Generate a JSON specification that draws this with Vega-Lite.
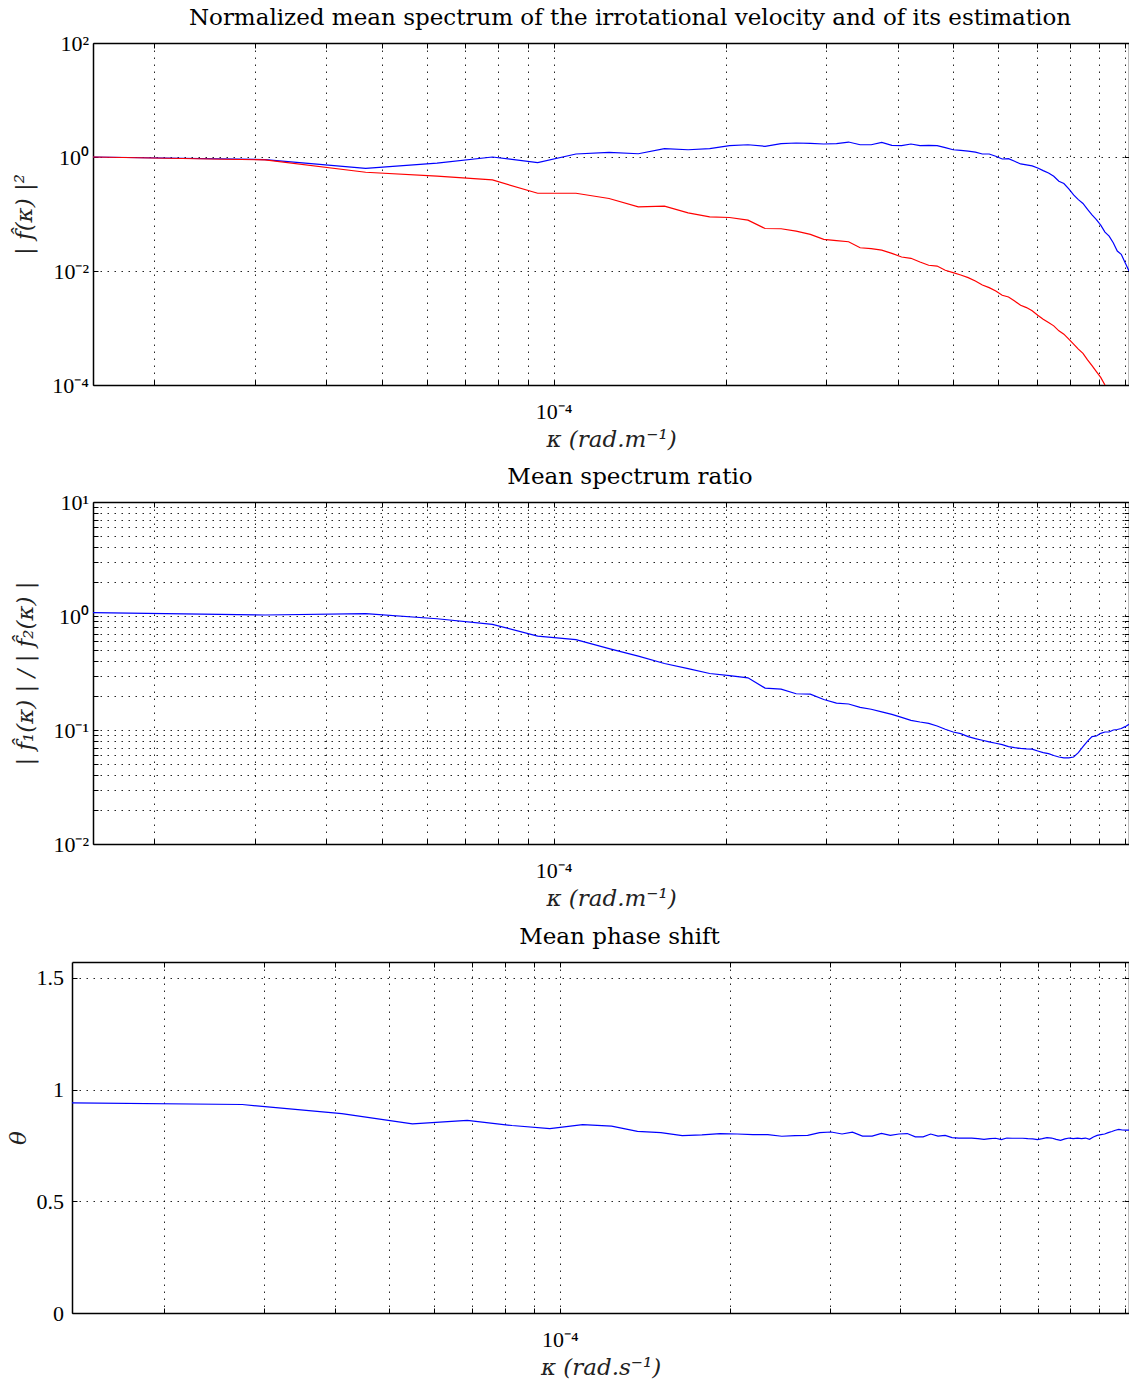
{
 "$schema": "https://vega.github.io/schema/vega-lite/v6.json",
 "background": "white",
 "padding": {"left": 7, "top": 7, "right": 0, "bottom": 0},
 "spacing": 15,
 "bounds": "full",
 "config": {
  "view": {"stroke": null},
  "axis": {"domain": true, "domainColor": "#000", "domainWidth": 1.5, "ticks": true, "tickSize": -5, "tickColor": "#000", "tickWidth": 1,
   "grid": true, "gridColor": "#000", "gridDash": [1.5, 5.5], "gridOpacity": 0.85, "gridWidth": 1,
   "labelFont": "Liberation Serif", "labelFontSize": 22, "labelColor": "#000",
   "titleFont": "DejaVu Serif", "titleFontSize": 23, "titleFontWeight": "normal", "titleFontStyle": "italic", "titleColor": "#222",
   "labelFlush": false, "labelOverlap": false, "labelBound": false},
  "title": {"font": "DejaVu Serif", "fontSize": 23, "fontWeight": "normal", "color": "#000", "anchor": "middle", "frame": "group"},
  "line": {"strokeWidth": 1.2, "clip": true}
 },
 "datasets": {
  "wave": [
   {"k":1.5625e-5,"blue":1.0,"red":1.0,"ratio":1.07},
   {"k":3.125e-5,"blue":0.9,"red":0.89,"ratio":1.02},
   {"k":4.6875e-5,"blue":0.63,"red":0.54,"ratio":1.05},
   {"k":6.25e-5,"blue":0.78,"red":0.46,"ratio":0.946},
   {"k":7.8125e-5,"blue":1.0,"red":0.396,"ratio":0.843},
   {"k":9.375e-5,"blue":0.8,"red":0.231,"ratio":0.667},
   {"k":1.09375e-4,"blue":1.13,"red":0.231,"ratio":0.62},
   {"k":1.25e-4,"blue":1.21,"red":0.187,"ratio":0.518},
   {"k":1.40625e-4,"blue":1.14,"red":0.133,"ratio":0.444},
   {"k":1.5625e-4,"blue":1.4,"red":0.137,"ratio":0.383},
   {"k":1.71875e-4,"blue":1.34,"red":0.105,"ratio":0.346},
   {"k":1.875e-4,"blue":1.4,"red":0.089,"ratio":0.313},
   {"k":2.03125e-4,"blue":1.58,"red":0.0868,"ratio":0.3},
   {"k":2.1875e-4,"blue":1.64,"red":0.078,"ratio":0.287},
   {"k":2.34375e-4,"blue":1.54,"red":0.0557,"ratio":0.233},
   {"k":2.5e-4,"blue":1.71,"red":0.0551,"ratio":0.228},
   {"k":2.65625e-4,"blue":1.76,"red":0.05,"ratio":0.208},
   {"k":2.8125e-4,"blue":1.73,"red":0.0438,"ratio":0.206},
   {"k":2.96875e-4,"blue":1.69,"red":0.0358,"ratio":0.185},
   {"k":3.125e-4,"blue":1.71,"red":0.034,"ratio":0.172},
   {"k":3.28125e-4,"blue":1.83,"red":0.0326,"ratio":0.169},
   {"k":3.4375e-4,"blue":1.64,"red":0.0256,"ratio":0.158},
   {"k":3.59375e-4,"blue":1.64,"red":0.0246,"ratio":0.152},
   {"k":3.75e-4,"blue":1.8,"red":0.0233,"ratio":0.144},
   {"k":3.90625e-4,"blue":1.6,"red":0.0204,"ratio":0.137},
   {"k":4.0625e-4,"blue":1.58,"red":0.0176,"ratio":0.129},
   {"k":4.21875e-4,"blue":1.69,"red":0.0167,"ratio":0.1215},
   {"k":4.375e-4,"blue":1.58,"red":0.0144,"ratio":0.1175},
   {"k":4.53125e-4,"blue":1.6,"red":0.0126,"ratio":0.1143},
   {"k":4.6875e-4,"blue":1.58,"red":0.0122,"ratio":0.1084},
   {"k":4.84375e-4,"blue":1.46,"red":0.0103,"ratio":0.1014},
   {"k":5e-4,"blue":1.34,"red":0.00935,"ratio":0.0961},
   {"k":5.15625e-4,"blue":1.31,"red":0.0085,"ratio":0.0929},
   {"k":5.3125e-4,"blue":1.27,"red":0.00764,"ratio":0.0875},
   {"k":5.46875e-4,"blue":1.22,"red":0.00668,"ratio":0.084},
   {"k":5.625e-4,"blue":1.13,"red":0.00569,"ratio":0.0813},
   {"k":5.78125e-4,"blue":1.13,"red":0.0051,"ratio":0.0786},
   {"k":5.9375e-4,"blue":1.03,"red":0.00447,"ratio":0.0765},
   {"k":6.09375e-4,"blue":0.923,"red":0.00375,"ratio":0.0745},
   {"k":6.25e-4,"blue":0.935,"red":0.0035,"ratio":0.0715},
   {"k":6.40625e-4,"blue":0.84,"red":0.00298,"ratio":0.07},
   {"k":6.5625e-4,"blue":0.755,"red":0.0025,"ratio":0.069},
   {"k":6.71875e-4,"blue":0.725,"red":0.00228,"ratio":0.0683},
   {"k":6.875e-4,"blue":0.7,"red":0.002,"ratio":0.068},
   {"k":7.03125e-4,"blue":0.643,"red":0.00168,"ratio":0.0655},
   {"k":7.1875e-4,"blue":0.577,"red":0.00143,"ratio":0.0633},
   {"k":7.34375e-4,"blue":0.525,"red":0.00125,"ratio":0.062},
   {"k":7.5e-4,"blue":0.459,"red":0.00109,"ratio":0.0597},
   {"k":7.65625e-4,"blue":0.375,"red":0.000892,"ratio":0.058},
   {"k":7.8125e-4,"blue":0.342,"red":0.00078,"ratio":0.0569},
   {"k":7.96875e-4,"blue":0.275,"red":0.000638,"ratio":0.057},
   {"k":8.125e-4,"blue":0.216,"red":0.000521,"ratio":0.058},
   {"k":8.28125e-4,"blue":0.179,"red":0.000426,"ratio":0.0633},
   {"k":8.4375e-4,"blue":0.153,"red":0.000358,"ratio":0.0715},
   {"k":8.59375e-4,"blue":0.12,"red":0.000277,"ratio":0.08},
   {"k":8.75e-4,"blue":0.0967,"red":0.000218,"ratio":0.0875},
   {"k":8.90625e-4,"blue":0.08,"red":0.000171,"ratio":0.0886},
   {"k":9.0625e-4,"blue":0.0638,"red":0.000136,"ratio":0.0935},
   {"k":9.21875e-4,"blue":0.0481,"red":0.0001,"ratio":0.096},
   {"k":9.375e-4,"blue":0.041,"ratio":0.096},
   {"k":9.53125e-4,"blue":0.0313,"ratio":0.1},
   {"k":9.6875e-4,"blue":0.0224,"ratio":0.101},
   {"k":9.84375e-4,"blue":0.0196,"ratio":0.103},
   {"k":1e-3,"blue":0.014,"ratio":0.107},
   {"k":1.015625e-3,"blue":0.01,"ratio":0.112}
  ],
  "phase": [
   {"w":1.3725e-5,"theta":0.94},{"w":2.745e-5,"theta":0.933},{"w":4.1175e-5,"theta":0.892},{"w":5.49e-5,"theta":0.846},
   {"w":6.8625e-5,"theta":0.862},{"w":8.235e-5,"theta":0.839},{"w":9.6075e-5,"theta":0.825},{"w":1.098e-4,"theta":0.843},
   {"w":1.23525e-4,"theta":0.836},{"w":1.3725e-4,"theta":0.813},{"w":1.50975e-4,"theta":0.807},{"w":1.647e-4,"theta":0.794},
   {"w":1.78425e-4,"theta":0.797},{"w":1.9215e-4,"theta":0.803},{"w":2.05875e-4,"theta":0.801},{"w":2.196e-4,"theta":0.798},
   {"w":2.33325e-4,"theta":0.798},{"w":2.4705e-4,"theta":0.791},{"w":2.60775e-4,"theta":0.794},{"w":2.745e-4,"theta":0.795},
   {"w":2.88225e-4,"theta":0.807},{"w":3.0195e-4,"theta":0.81},{"w":3.15675e-4,"theta":0.801},{"w":3.294e-4,"theta":0.809},
   {"w":3.43125e-4,"theta":0.792},{"w":3.5685e-4,"theta":0.792},{"w":3.70575e-4,"theta":0.804},{"w":3.843e-4,"theta":0.795},
   {"w":3.98025e-4,"theta":0.801},{"w":4.1175e-4,"theta":0.803},{"w":4.25475e-4,"theta":0.788},{"w":4.392e-4,"theta":0.788},
   {"w":4.52925e-4,"theta":0.801},{"w":4.6665e-4,"theta":0.792},{"w":4.80375e-4,"theta":0.795},{"w":4.941e-4,"theta":0.785},
   {"w":5.07825e-4,"theta":0.783},{"w":5.2155e-4,"theta":0.783},{"w":5.35275e-4,"theta":0.783},{"w":5.49e-4,"theta":0.78},
   {"w":5.62725e-4,"theta":0.777},{"w":5.7645e-4,"theta":0.78},{"w":5.90175e-4,"theta":0.782},{"w":6.039e-4,"theta":0.776},
   {"w":6.17625e-4,"theta":0.783},{"w":6.3135e-4,"theta":0.782},{"w":6.45075e-4,"theta":0.782},{"w":6.588e-4,"theta":0.782},
   {"w":6.72525e-4,"theta":0.78},{"w":6.8625e-4,"theta":0.779},{"w":6.99975e-4,"theta":0.776},{"w":7.137e-4,"theta":0.78},
   {"w":7.27425e-4,"theta":0.785},{"w":7.4115e-4,"theta":0.783},{"w":7.54875e-4,"theta":0.777},{"w":7.686e-4,"theta":0.773},
   {"w":7.82325e-4,"theta":0.779},{"w":7.9605e-4,"theta":0.783},{"w":8.09775e-4,"theta":0.78},{"w":8.235e-4,"theta":0.783},
   {"w":8.37225e-4,"theta":0.78},{"w":8.5095e-4,"theta":0.783},{"w":8.64675e-4,"theta":0.777},{"w":8.784e-4,"theta":0.788},
   {"w":8.92125e-4,"theta":0.795},{"w":9.0585e-4,"theta":0.798},{"w":9.19575e-4,"theta":0.801},{"w":9.333e-4,"theta":0.807},
   {"w":9.47025e-4,"theta":0.812},{"w":9.6075e-4,"theta":0.818},{"w":9.74475e-4,"theta":0.822},{"w":9.882e-4,"theta":0.819},
   {"w":1.001925e-3,"theta":0.818},{"w":1.01565e-3,"theta":0.818}
  ]
 },
 "vconcat": [
  {
   "width": 1057, "height": 342,
   "title": {"text": "Normalized mean spectrum of the irrotational velocity and of its estimation", "offset": 2, "dx": 29.5},
   "data": {"name": "wave"},
   "transform": [{"fold": ["blue", "red"], "as": ["series", "v"]}, {"filter": "isValid(datum.v) && datum.v > 0"}],
   "layer": [
    {
     "mark": {"type": "line", "clip": true, "strokeWidth": 1.2},
     "encoding": {
      "x": {"field": "k", "type": "quantitative",
       "scale": {"type": "log", "domain": [1.5625e-5, 1.015625e-3], "nice": false, "range": [21, 1057]},
       "axis": {"orient": "bottom", "values": [2e-5,3e-5,4e-5,5e-5,6e-5,7e-5,8e-5,9e-5,1e-4,2e-4,3e-4,4e-4,5e-4,6e-4,7e-4,8e-4,9e-4,1e-3],
        "labelExpr": "abs(datum.value-0.0001)<1e-9 ? '10⁻⁴' : ''", "title": "κ (rad.m⁻¹)", "labelPadding": 21, "titlePadding": 6}},
      "y": {"field": "v", "type": "quantitative",
       "scale": {"type": "log", "domain": [0.0001, 100], "nice": false},
       "axis": {"orient": "left", "offset": -21, "values": [0.0001, 0.01, 1, 100],
        "labelExpr": "datum.value > 10 ? '10²' : datum.value > 0.1 ? '10⁰' : datum.value > 0.001 ? '10⁻²' : '10⁻⁴'",
        "title": "| f̂(κ) |²", "labelPadding": 9.5, "titlePadding": 15}},
      "color": {"field": "series", "type": "nominal", "scale": {"domain": ["blue", "red"], "range": ["#0000ff", "#ff0000"]}, "legend": null}
     }
    },
    {
     "mark": {"type": "point", "opacity": 0},
     "encoding": {
      "x": {"field": "k", "type": "quantitative",
       "axis": {"orient": "top", "labels": false, "grid": false, "title": null, "values": [2e-5,3e-5,4e-5,5e-5,6e-5,7e-5,8e-5,9e-5,1e-4,2e-4,3e-4,4e-4,5e-4,6e-4,7e-4,8e-4,9e-4,1e-3]}},
      "y": {"field": "v", "type": "quantitative",
       "axis": {"orient": "right", "labels": false, "grid": false, "title": null, "values": [0.0001, 0.01, 1, 100]}}
     }
    }
   ],
   "resolve": {"axis": {"x": "independent", "y": "independent"}}
  },
  {
   "width": 1057, "height": 342,
   "title": {"text": "Mean spectrum ratio", "offset": 2, "dx": 29.5},
   "data": {"name": "wave"},
   "layer": [
    {
     "mark": {"type": "line", "clip": true, "strokeWidth": 1.2, "color": "#0000ff"},
     "encoding": {
      "x": {"field": "k", "type": "quantitative",
       "scale": {"type": "log", "domain": [1.5625e-5, 1.015625e-3], "nice": false, "range": [21, 1057]},
       "axis": {"orient": "bottom", "values": [2e-5,3e-5,4e-5,5e-5,6e-5,7e-5,8e-5,9e-5,1e-4,2e-4,3e-4,4e-4,5e-4,6e-4,7e-4,8e-4,9e-4,1e-3],
        "labelExpr": "abs(datum.value-0.0001)<1e-9 ? '10⁻⁴' : ''", "title": "κ (rad.m⁻¹)", "labelPadding": 21, "titlePadding": 6}},
      "y": {"field": "ratio", "type": "quantitative",
       "scale": {"type": "log", "domain": [0.01, 10], "nice": false},
       "axis": {"orient": "left", "offset": -21, "values": [0.01,0.02,0.03,0.04,0.05,0.06,0.07,0.08,0.09,0.1,0.2,0.3,0.4,0.5,0.6,0.7,0.8,0.9,1,2,3,4,5,6,7,8,9,10],
        "labelExpr": "abs(datum.value-10)<1e-6 ? '10¹' : abs(datum.value-1)<1e-7 ? '10⁰' : abs(datum.value-0.1)<1e-8 ? '10⁻¹' : abs(datum.value-0.01)<1e-9 ? '10⁻²' : ''",
        "title": "| f̂₁(κ) | / | f̂₂(κ) |", "labelPadding": 9.5, "titlePadding": 15}}
     }
    },
    {
     "mark": {"type": "point", "opacity": 0},
     "encoding": {
      "x": {"field": "k", "type": "quantitative",
       "axis": {"orient": "top", "labels": false, "grid": false, "title": null, "values": [2e-5,3e-5,4e-5,5e-5,6e-5,7e-5,8e-5,9e-5,1e-4,2e-4,3e-4,4e-4,5e-4,6e-4,7e-4,8e-4,9e-4,1e-3]}},
      "y": {"field": "ratio", "type": "quantitative",
       "axis": {"orient": "right", "labels": false, "grid": false, "title": null, "values": [0.01,0.02,0.03,0.04,0.05,0.06,0.07,0.08,0.09,0.1,0.2,0.3,0.4,0.5,0.6,0.7,0.8,0.9,1,2,3,4,5,6,7,8,9,10]}}
     }
    }
   ],
   "resolve": {"axis": {"x": "independent", "y": "independent"}}
  },
  {
   "width": 1057, "height": 351,
   "title": {"text": "Mean phase shift", "offset": 13, "dx": 19},
   "data": {"name": "phase"},
   "layer": [
    {
     "mark": {"type": "line", "clip": true, "strokeWidth": 1.2, "color": "#0000ff"},
     "encoding": {
      "x": {"field": "w", "type": "quantitative",
       "scale": {"type": "log", "domain": [1.3725e-5, 1.01565e-3], "nice": false},
       "axis": {"orient": "bottom", "values": [2e-5,3e-5,4e-5,5e-5,6e-5,7e-5,8e-5,9e-5,1e-4,2e-4,3e-4,4e-4,5e-4,6e-4,7e-4,8e-4,9e-4,1e-3],
        "labelExpr": "abs(datum.value-0.0001)<1e-9 ? '10⁻⁴' : ''", "title": "κ (rad.s⁻¹)", "labelPadding": 21, "titlePadding": 6}},
      "y": {"field": "theta", "type": "quantitative",
       "scale": {"domain": [0, 1.5708], "nice": false, "zero": false},
       "axis": {"orient": "left", "values": [0, 0.5, 1, 1.5], "format": "~g", "title": "θ", "labelPadding": 13.5, "titlePadding": 6}}
     }
    },
    {
     "mark": {"type": "point", "opacity": 0},
     "encoding": {
      "x": {"field": "w", "type": "quantitative",
       "axis": {"orient": "top", "labels": false, "grid": false, "title": null, "values": [2e-5,3e-5,4e-5,5e-5,6e-5,7e-5,8e-5,9e-5,1e-4,2e-4,3e-4,4e-4,5e-4,6e-4,7e-4,8e-4,9e-4,1e-3]}},
      "y": {"field": "theta", "type": "quantitative",
       "axis": {"orient": "right", "labels": false, "grid": false, "title": null, "values": [0, 0.5, 1, 1.5]}}
     }
    }
   ],
   "resolve": {"axis": {"x": "independent", "y": "independent"}}
  }
 ]
}
